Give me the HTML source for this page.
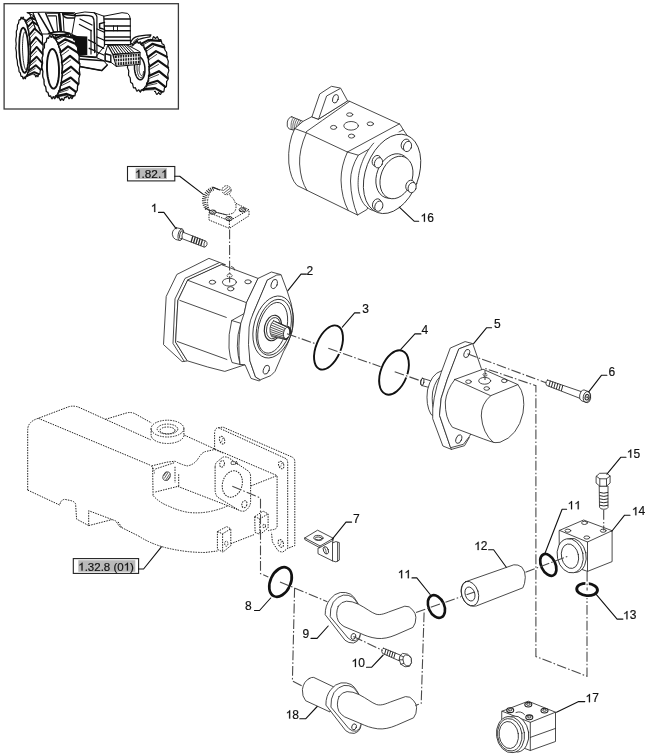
<!DOCTYPE html>
<html><head><meta charset="utf-8">
<style>
html,body{margin:0;padding:0;background:#fff;}
body{width:645px;height:756px;overflow:hidden;font-family:"Liberation Sans",sans-serif;}
svg{display:block;position:absolute;left:0;top:0;will-change:transform;}
text{font-family:"Liberation Sans",sans-serif;font-size:11.5px;fill:#111;stroke:#111;stroke-width:0.18;}
.l{fill:none;stroke:#2a2a2a;stroke-width:0.85;stroke-linecap:round;stroke-linejoin:round;}
.lf{fill:#fff;stroke:#2a2a2a;stroke-width:0.85;stroke-linecap:round;stroke-linejoin:round;}
.ld{fill:none;stroke:#111;stroke-width:1.1;stroke-linecap:round;stroke-linejoin:round;}
.dd{fill:none;stroke:#4a4a4a;stroke-width:1.1;stroke-dasharray:9.8 2.1 1.6 2.1;}
.dt{fill:none;stroke:#222;stroke-width:1.0;stroke-dasharray:1.5 1.1;stroke-linejoin:round;}
.dtf{fill:#fff;stroke:#222;stroke-width:1.0;stroke-dasharray:1.5 1.1;stroke-linejoin:round;}
.or{fill:none;stroke:#111;stroke-width:2.2;}
.t{fill:none;stroke:#111;stroke-width:1.0;stroke-linecap:round;stroke-linejoin:round;}
.tf{fill:#fff;stroke:#111;stroke-width:1.0;stroke-linecap:round;stroke-linejoin:round;}
.k{fill:#111;stroke:none;}
</style></head><body>
<svg width="645" height="756" viewBox="0 0 645 756">
<rect x="0" y="0" width="645" height="756" fill="#fff"/>
<g id="tractor">
<rect x="4.1" y="3.7" width="174.3" height="105.3" fill="#fff" stroke="#3a3a3a" stroke-width="1.3"/>
<path d="M31.6 17.8 L31.8 17.8 L32.0 17.9 L32.3 17.9 L32.5 18.1 L32.7 18.2 L32.9 17.6 L33.0 16.9 L33.2 16.3 L33.3 15.7 L33.5 15.1 L33.7 15.4 L34.0 15.8 L34.2 16.1 L34.4 16.5 L34.6 16.9 L34.8 16.5 L35.0 16.0 L35.2 15.6 L35.4 15.3 L35.6 15.0 L35.9 15.6 L36.1 16.2 L36.3 16.8 L36.5 17.4 L36.6 17.9 L36.9 17.8 L37.1 17.6 L37.3 17.5 L37.5 17.4 L37.8 17.4 L37.9 18.2 L38.1 19.0 L38.3 19.8 L38.4 20.6 L38.6 21.3 L38.8 21.4 L39.0 21.5 L39.3 21.7 L39.5 21.8 L39.7 22.2 L39.8 23.1 L40.0 24.0 L40.1 24.9 L40.2 25.8 L40.3 26.7 L40.5 27.0 L40.7 27.4 L40.9 27.8 L41.2 28.3 L41.4 28.9 L41.4 29.8 L41.5 30.8 L41.5 31.8 L41.5 32.7 L41.6 33.6 L41.8 34.2 L42.0 34.8 L42.2 35.5 L42.4 36.2 L42.5 36.9 L42.5 37.9 L42.5 38.9 L42.5 39.8 L42.4 40.7 L42.4 41.6 L42.6 42.4 L42.8 43.2 L42.9 44.0 L43.0 44.9 L43.1 45.7 L43.1 46.6 L43.0 47.5 L42.9 48.3 L42.8 49.1 L42.7 49.9 L42.8 50.8 L42.9 51.8 L43.0 52.7 L43.1 53.7 L43.1 54.6 L43.0 55.3 L42.8 56.0 L42.7 56.6 L42.5 57.3 L42.5 58.0 L42.5 58.9 L42.5 59.9 L42.6 60.9 L42.6 61.8 L42.5 62.7 L42.3 63.2 L42.1 63.6 L42.0 64.1 L41.8 64.5 L41.6 65.0 L41.6 66.0 L41.6 66.9 L41.5 67.8 L41.5 68.7 L41.4 69.4 L41.1 69.6 L40.9 69.8 L40.7 70.0 L40.5 70.1 L40.3 70.6 L40.2 71.4 L40.1 72.2 L40.0 73.0 L39.9 73.8 L39.7 74.2 L39.5 74.2 L39.3 74.1 L39.0 74.0 L38.8 73.9 L38.6 74.1 L38.5 74.7 L38.3 75.4 L38.2 76.0 L38.0 76.6 L37.8 76.7 L37.6 76.4 L37.3 76.1 L37.1 75.7 L36.9 75.3 L36.7 75.3 L36.5 75.7 L36.3 76.1 L36.1 76.5 L35.9 76.9 L35.7 76.7 L35.5 76.2 L35.3 75.6 L35.1 75.0 L34.9 74.3 L34.7 74.1 L34.4 74.3 L34.2 74.5 L34.0 74.6 L33.8 74.6 L33.6 74.2" fill="#fff" stroke="#111" stroke-width="1.2" stroke-linejoin="round"/>
<path d="M30.7 47.7 L30.5 49.1 L30.4 50.4 L30.2 51.7 L30.3 53.1 L30.5 54.5 L30.6 56.0 L30.5 57.3 L30.3 58.4 L30.1 59.4 L30.0 60.5 L30.0 62.0 L30.1 63.6 L30.0 64.9 L29.7 65.7 L29.4 66.3 L29.1 67.0 L29.1 68.4 L29.0 69.9 L28.9 71.3 L28.6 71.8 L28.2 72.1 L27.9 72.3 L27.7 73.3 L27.6 74.5 L27.4 75.8 L27.1 76.3 L26.7 76.2 L26.4 76.0 L26.0 76.2 L25.8 77.2 L25.6 78.2 L25.3 78.8 L24.9 78.3 L24.6 77.7 L24.2 77.1 L23.9 77.8 L23.6 78.4 L23.3 78.9 L22.9 78.3 L22.6 77.3 L22.3 76.3 L22.0 76.2 L21.7 76.4 L21.3 76.5 L21.0 76.0 L20.7 74.8 L20.5 73.5 L20.2 72.6 L19.8 72.4 L19.5 72.1 L19.1 71.7 L18.9 70.2 L18.8 68.8 L18.6 67.4 L18.3 66.7 L18.0 66.1 L17.6 65.3 L17.5 64.0 L17.4 62.5 L17.3 61.0 L17.1 59.8 L16.8 58.8 L16.5 57.8 L16.4 56.5 L16.4 55.0 L16.4 53.5 L16.4 52.2 L16.2 50.9 L16.0 49.6 L15.7 48.3 L15.9 46.9 L16.0 45.6 L16.2 44.3 L16.1 42.9 L15.9 41.5 L15.8 40.0 L15.9 38.7 L16.1 37.6 L16.3 36.6 L16.4 35.5 L16.4 34.0 L16.3 32.4 L16.4 31.1 L16.7 30.3 L17.0 29.7 L17.3 29.0 L17.3 27.6 L17.4 26.1 L17.5 24.7 L17.8 24.2 L18.2 23.9 L18.5 23.7 L18.7 22.7 L18.8 21.5 L19.0 20.2 L19.3 19.7 L19.7 19.8 L20.0 20.0 L20.4 19.8 L20.6 18.8 L20.8 17.8 L21.1 17.2 L21.5 17.7 L21.8 18.3 L22.2 18.9 L22.5 18.2 L22.8 17.6 L23.1 17.1 L23.5 17.7 L23.8 18.7 L24.1 19.7 L24.4 19.8 L24.7 19.6 L25.1 19.5 L25.4 20.0 L25.7 21.2 L25.9 22.5 L26.2 23.4 L26.6 23.6 L26.9 23.9 L27.3 24.3 L27.5 25.8 L27.6 27.2 L27.8 28.6 L28.1 29.3 L28.4 29.9 L28.8 30.7 L28.9 32.0 L29.0 33.5 L29.1 35.0 L29.3 36.2 L29.6 37.2 L29.9 38.2 L30.0 39.5 L30.0 41.0 L30.0 42.5 L30.0 43.8 L30.2 45.1 L30.4 46.4 L30.7 47.7 Z" fill="#fff" stroke="#111" stroke-width="1.2" stroke-linejoin="round"/>
<path d="M25.5 21.4 L30.3 17.8 L38.5 20.6" fill="none" stroke="#111" stroke-width="1.9" stroke-linecap="round" stroke-linejoin="round"/>
<path d="M26.4 23.2 L31.3 19.5" fill="none" stroke="#111" stroke-width="0.8" stroke-linecap="round"/>
<path d="M27.6 27.1 L32.6 21.9 L40.4 26.8" fill="none" stroke="#111" stroke-width="1.9" stroke-linecap="round" stroke-linejoin="round"/>
<path d="M28.3 29.9 L33.5 24.7" fill="none" stroke="#111" stroke-width="0.8" stroke-linecap="round"/>
<path d="M29.2 35.1 L34.6 28.6 L41.9 35.1" fill="none" stroke="#111" stroke-width="1.9" stroke-linecap="round" stroke-linejoin="round"/>
<path d="M29.6 38.5 L35.2 32.2" fill="none" stroke="#111" stroke-width="0.8" stroke-linecap="round"/>
<path d="M30.2 44.4 L35.9 37.2 L42.7 44.5" fill="none" stroke="#111" stroke-width="1.9" stroke-linecap="round" stroke-linejoin="round"/>
<path d="M30.3 48.1 L36.3 41.4" fill="none" stroke="#111" stroke-width="0.8" stroke-linecap="round"/>
<path d="M30.4 54.2 L36.7 46.9 L42.8 54.1" fill="none" stroke="#111" stroke-width="1.9" stroke-linecap="round" stroke-linejoin="round"/>
<path d="M30.3 57.7 L36.6 51.1" fill="none" stroke="#111" stroke-width="0.8" stroke-linecap="round"/>
<path d="M29.8 63.2 L36.6 56.7 L42.1 62.8" fill="none" stroke="#111" stroke-width="1.9" stroke-linecap="round" stroke-linejoin="round"/>
<path d="M29.4 66.3 L36.3 60.4" fill="none" stroke="#111" stroke-width="0.8" stroke-linecap="round"/>
<path d="M28.6 70.7 L35.8 65.3 L40.7 69.7" fill="none" stroke="#111" stroke-width="1.9" stroke-linecap="round" stroke-linejoin="round"/>
<path d="M28.0 72.9 L35.2 68.3" fill="none" stroke="#111" stroke-width="0.8" stroke-linecap="round"/>
<path d="M26.8 75.7 L34.3 72.1 L38.8 74.2" fill="none" stroke="#111" stroke-width="1.9" stroke-linecap="round" stroke-linejoin="round"/>
<path d="M26.0 76.9 L33.4 73.9" fill="none" stroke="#111" stroke-width="0.8" stroke-linecap="round"/>
<path d="M21.6 18.9 L22.2 18.7 L22.8 18.8 L23.4 19.1 L24.0 19.7 L24.6 20.4 L25.2 21.4 L25.8 22.5 L26.4 23.9 L26.9 25.4 L27.4 27.1 L27.9 29.0 L28.3 31.0 L28.7 33.2 L29.1 35.4 L29.4 37.8 L29.7 40.2 L29.9 42.7 L30.1 45.2 L30.2 47.8 L30.2 50.3 L30.3 52.8 L30.2 55.3 L30.1 57.8 L30.0 60.2 L29.8 62.4 L29.5 64.6 L29.2 66.6 L28.9 68.5 L28.5 70.3 L28.0 71.8 L27.6 73.2 L27.1 74.4 L26.5 75.4 L26.0 76.2 L25.4 76.8 L24.8 77.1 L24.2 77.3 L23.6 77.2" fill="none" stroke="#111" stroke-width="1.0"/>
<path d="M28.5 50.1 L28.6 52.5 L28.6 54.8 L28.5 57.1 L28.4 59.3 L28.3 61.4 L28.1 63.4 L27.8 65.2 L27.6 66.9 L27.2 68.4 L26.9 69.7 L26.5 70.8 L26.1 71.6 L25.6 72.3 L25.2 72.6 L24.7 72.8 L24.2 72.7 L23.7 72.3 L23.2 71.7 L22.7 70.9 L22.3 69.9 L21.8 68.6 L21.4 67.1 L21.0 65.5 L20.6 63.6 L20.3 61.7 L20.0 59.6 L19.8 57.4 L19.6 55.1 L19.4 52.8 L19.3 50.5 L19.2 48.1 L19.2 45.8 L19.3 43.5 L19.4 41.3 L19.5 39.2 L19.7 37.2 L20.0 35.4 L20.2 33.7 L20.6 32.2 L20.9 30.9 L21.3 29.8 L21.7 29.0 L22.2 28.3 L22.6 28.0 L23.1 27.8 L23.6 27.9 L24.1 28.3 L24.6 28.9 L25.1 29.7 L25.5 30.7 L26.0 32.0 L26.4 33.5 L26.8 35.1 L27.2 37.0 L27.5 38.9 L27.8 41.0 L28.0 43.2 L28.2 45.5 L28.4 47.8 L28.5 50.1 Z" fill="none" stroke="#111" stroke-width="1.8" stroke-linecap="round"/>
<path d="M27.7 67.4 L27.4 68.3 L27.2 69.0 L26.9 69.6 L26.6 69.9 L26.3 70.0 L25.9 69.9 L25.6 69.6 L25.3 69.1 L25.0 68.4 L24.7 67.5 L24.4 66.4 L24.1 65.2 L23.8 63.8 L23.6 62.2 L23.3 60.6 L23.1 58.8 L23.0 57.0 L22.8 55.1 L22.7 53.1 L22.6 51.1 L22.5 49.1 L22.5 47.2 L22.5 45.2 L22.6 43.4 L22.7 41.6 L22.8 39.9 L22.9 38.4 L23.1 37.0 L23.3 35.7 L23.5 34.6 L23.8 33.7 L24.0 33.0 L24.3 32.4 L24.6 32.1 L24.9 32.0 L25.3 32.1 L25.6 32.4 L25.9 32.9 L26.2 33.6 L26.5 34.5" fill="none" stroke="#111" stroke-width="0.9" stroke-linecap="round"/>
<path d="M150.2 39.4 L150.6 39.4 L151.0 39.5 L151.3 39.6 L151.7 39.7 L152.1 39.8 L152.3 39.6 L152.6 38.9 L152.8 38.3 L153.0 37.7 L153.3 37.1 L153.6 36.6 L153.9 36.9 L154.3 37.3 L154.7 37.6 L155.0 38.0 L155.3 38.5 L155.7 38.4 L155.9 38.0 L156.3 37.6 L156.6 37.3 L156.9 36.9 L157.2 36.7 L157.6 37.3 L157.9 37.9 L158.2 38.5 L158.5 39.1 L158.8 39.8 L159.1 39.9 L159.4 39.8 L159.8 39.7 L160.2 39.6 L160.5 39.6 L160.9 39.7 L161.1 40.4 L161.4 41.2 L161.6 42.0 L161.8 42.8 L162.0 43.6 L162.3 44.0 L162.7 44.1 L163.1 44.3 L163.4 44.5 L163.8 44.8 L164.1 45.2 L164.3 46.1 L164.4 47.0 L164.6 47.9 L164.7 48.8 L164.8 49.6 L165.1 50.2 L165.4 50.6 L165.7 51.0 L166.1 51.5 L166.4 52.0 L166.7 52.7 L166.7 53.6 L166.8 54.5 L166.8 55.5 L166.8 56.3 L166.8 57.2 L167.0 57.9 L167.3 58.6 L167.6 59.2 L167.8 59.9 L168.1 60.7 L168.3 61.5 L168.2 62.3 L168.1 63.2 L168.0 64.0 L167.9 64.8 L167.8 65.6 L167.9 66.4 L168.1 67.2 L168.3 68.0 L168.5 68.9 L168.7 69.8 L168.8 70.6 L168.6 71.4 L168.4 72.1 L168.2 72.7 L168.0 73.4 L167.7 74.0 L167.8 74.8 L167.9 75.7 L168.0 76.6 L168.1 77.6 L168.1 78.5 L168.1 79.3 L167.8 79.8 L167.5 80.3 L167.2 80.7 L166.9 81.2 L166.6 81.5 L166.6 82.4 L166.6 83.3 L166.6 84.1 L166.5 85.0 L166.5 85.9 L166.3 86.6 L166.0 86.8 L165.6 87.1 L165.3 87.2 L164.9 87.4 L164.6 87.5 L164.4 88.2 L164.3 89.0 L164.2 89.8 L164.0 90.6 L163.9 91.4 L163.6 91.8 L163.2 91.8 L162.9 91.7 L162.5 91.6 L162.1 91.5 L161.8 91.3 L161.6 91.9 L161.3 92.5 L161.1 93.1 L160.9 93.7 L160.6 94.3 L160.3 94.5 L159.9 94.1 L159.5 93.8 L159.2 93.4 L158.8 93.0 L158.5 92.5 L158.2 93.0 L157.9 93.4 L157.6 93.7 L157.3 94.1 L157.0 94.4 L156.6 94.2 L156.3 93.7 L156.0 93.1 L155.7 92.4 L155.4 91.8 L155.1 91.2 L154.8 91.3 L154.4 91.5 L154.0 91.5" fill="#fff" stroke="#111" stroke-width="1.2" stroke-linejoin="round"/>
<path d="M149.8 65.7 L149.6 66.9 L149.3 67.9 L149.0 69.0 L149.0 70.0 L149.3 71.2 L149.6 72.4 L149.8 73.7 L149.4 74.6 L149.0 75.4 L148.6 76.1 L148.5 77.1 L148.6 78.4 L148.7 79.7 L148.7 81.0 L148.2 81.5 L147.7 82.0 L147.2 82.3 L146.9 83.1 L146.9 84.4 L146.8 85.6 L146.6 86.9 L146.1 87.0 L145.5 87.0 L144.9 87.0 L144.6 87.5 L144.3 88.6 L144.1 89.7 L143.8 90.7 L143.2 90.4 L142.6 90.1 L142.1 89.7 L141.6 89.9 L141.2 90.7 L140.8 91.5 L140.4 92.2 L139.9 91.6 L139.3 90.8 L138.9 90.1 L138.4 89.9 L137.9 90.4 L137.4 90.9 L136.9 91.2 L136.4 90.2 L136.0 89.2 L135.6 88.2 L135.2 87.7 L134.6 87.8 L134.1 87.8 L133.5 87.8 L133.2 86.6 L132.9 85.3 L132.7 84.1 L132.3 83.4 L131.7 83.1 L131.2 82.7 L130.6 82.3 L130.5 80.9 L130.4 79.6 L130.3 78.4 L130.0 77.4 L129.5 76.8 L129.0 76.0 L128.5 75.2 L128.6 73.9 L128.6 72.6 L128.8 71.4 L128.6 70.4 L128.2 69.4 L127.8 68.4 L127.4 67.3 L127.6 66.1 L127.9 65.1 L128.2 64.0 L128.2 63.0 L127.9 61.8 L127.6 60.6 L127.4 59.3 L127.8 58.4 L128.2 57.6 L128.6 56.9 L128.7 55.9 L128.6 54.6 L128.5 53.3 L128.5 52.0 L129.0 51.5 L129.5 51.0 L130.0 50.7 L130.3 49.9 L130.3 48.6 L130.4 47.4 L130.6 46.1 L131.1 46.0 L131.7 46.0 L132.3 46.0 L132.6 45.5 L132.9 44.4 L133.1 43.3 L133.4 42.3 L134.0 42.6 L134.6 42.9 L135.1 43.3 L135.6 43.1 L136.0 42.3 L136.4 41.5 L136.8 40.8 L137.3 41.4 L137.9 42.2 L138.3 42.9 L138.8 43.1 L139.3 42.6 L139.8 42.1 L140.3 41.8 L140.8 42.8 L141.2 43.8 L141.6 44.8 L142.0 45.3 L142.6 45.2 L143.1 45.2 L143.7 45.2 L144.0 46.4 L144.3 47.7 L144.5 48.9 L144.9 49.6 L145.5 49.9 L146.0 50.3 L146.6 50.7 L146.7 52.1 L146.8 53.4 L146.9 54.6 L147.2 55.6 L147.7 56.2 L148.2 57.0 L148.7 57.8 L148.6 59.1 L148.6 60.4 L148.4 61.6 L148.6 62.6 L149.0 63.6 L149.4 64.6 L149.8 65.7 Z" fill="#fff" stroke="#111" stroke-width="1.2" stroke-linejoin="round"/>
<path d="M141.2 43.9 L148.2 40.1 L160.3 40.8" fill="none" stroke="#111" stroke-width="2.2" stroke-linecap="round" stroke-linejoin="round"/>
<path d="M142.5 45.2 L149.7 41.2" fill="none" stroke="#111" stroke-width="0.8" stroke-linecap="round"/>
<path d="M145.1 49.2 L152.4 43.9 L164.2 47.4" fill="none" stroke="#111" stroke-width="2.2" stroke-linecap="round" stroke-linejoin="round"/>
<path d="M146.1 51.4 L153.7 46.3" fill="none" stroke="#111" stroke-width="0.8" stroke-linecap="round"/>
<path d="M147.9 57.2 L156.0 51.1 L166.9 56.9" fill="none" stroke="#111" stroke-width="2.2" stroke-linecap="round" stroke-linejoin="round"/>
<path d="M148.5 60.0 L156.8 54.4" fill="none" stroke="#111" stroke-width="0.8" stroke-linecap="round"/>
<path d="M149.2 66.6 L158.2 60.7 L168.1 67.7" fill="none" stroke="#111" stroke-width="2.2" stroke-linecap="round" stroke-linejoin="round"/>
<path d="M149.3 69.6 L158.5 64.4" fill="none" stroke="#111" stroke-width="0.8" stroke-linecap="round"/>
<path d="M148.9 76.0 L158.9 71.2 L167.5 78.2" fill="none" stroke="#111" stroke-width="2.2" stroke-linecap="round" stroke-linejoin="round"/>
<path d="M148.5 78.7 L158.6 74.6" fill="none" stroke="#111" stroke-width="0.8" stroke-linecap="round"/>
<path d="M147.0 84.0 L157.7 80.8 L165.3 86.8" fill="none" stroke="#111" stroke-width="2.2" stroke-linecap="round" stroke-linejoin="round"/>
<path d="M146.1 85.9 L156.9 83.5" fill="none" stroke="#111" stroke-width="0.8" stroke-linecap="round"/>
<path d="M143.7 89.2 L155.1 88.1 L161.8 92.0" fill="none" stroke="#111" stroke-width="2.2" stroke-linecap="round" stroke-linejoin="round"/>
<path d="M142.5 90.1 L153.8 89.7" fill="none" stroke="#111" stroke-width="0.8" stroke-linecap="round"/>
<path d="M136.0 42.8 L136.9 42.7 L137.8 42.7 L138.8 42.9 L139.7 43.3 L140.6 43.9 L141.5 44.6 L142.3 45.5 L143.2 46.6 L144.0 47.8 L144.7 49.2 L145.5 50.6 L146.1 52.3 L146.7 54.0 L147.3 55.8 L147.8 57.7 L148.2 59.6 L148.5 61.7 L148.8 63.7 L149.0 65.8 L149.1 67.9 L149.1 69.9 L149.0 72.0 L148.9 74.0 L148.7 75.9 L148.4 77.8 L148.0 79.6 L147.6 81.2 L147.1 82.8 L146.5 84.3 L145.9 85.6 L145.2 86.8 L144.5 87.8 L143.7 88.6 L142.9 89.3 L142.0 89.8 L141.2 90.2 L140.3 90.3 L139.4 90.3" fill="none" stroke="#111" stroke-width="1.0"/>
<path d="M144.9 68.0 L144.9 69.2 L144.9 70.4 L144.9 71.6 L144.8 72.7 L144.6 73.8 L144.4 74.8 L144.1 75.7 L143.8 76.6 L143.4 77.4 L143.0 78.1 L142.5 78.6 L142.1 79.1 L141.6 79.4 L141.0 79.7 L140.5 79.8 L139.9 79.7 L139.4 79.6 L138.9 79.3 L138.3 78.9 L137.8 78.4 L137.3 77.8 L136.8 77.1 L136.4 76.3 L136.0 75.4 L135.6 74.4 L135.3 73.4 L135.0 72.3 L134.8 71.1 L134.6 69.9 L134.5 68.8 L134.5 67.6 L134.5 66.4 L134.5 65.2 L134.6 64.1 L134.8 63.0 L135.0 62.0 L135.3 61.1 L135.6 60.2 L136.0 59.4 L136.4 58.7 L136.9 58.2 L137.3 57.7 L137.8 57.4 L138.4 57.1 L138.9 57.0 L139.5 57.1 L140.0 57.2 L140.5 57.5 L141.1 57.9 L141.6 58.4 L142.1 59.0 L142.6 59.7 L143.0 60.5 L143.4 61.4 L143.8 62.4 L144.1 63.4 L144.4 64.5 L144.6 65.7 L144.8 66.9 L144.9 68.0 Z" fill="none" stroke="#111" stroke-width="1.5" stroke-linecap="round"/>
<path d="M144.2 71.9 L144.1 72.7 L144.0 73.5 L143.8 74.3 L143.6 75.0 L143.4 75.6 L143.1 76.2 L142.8 76.7 L142.5 77.1 L142.2 77.4 L141.8 77.6 L141.4 77.7 L141.1 77.8 L140.7 77.7 L140.3 77.6 L139.9 77.3 L139.6 77.0 L139.2 76.6 L138.9 76.1 L138.5 75.5 L138.2 74.9 L138.0 74.2 L137.7 73.4 L137.5 72.6 L137.3 71.8 L137.2 70.9 L137.1 70.0 L137.0 69.2 L137.0 68.3 L137.0 67.4 L137.0 66.5 L137.1 65.7 L137.2 64.9 L137.4 64.1 L137.6 63.4 L137.8 62.8 L138.1 62.2 L138.4 61.7 L138.7 61.3" fill="none" stroke="#111" stroke-width="0.9" stroke-linecap="round"/>
<path d="M143.5 71.6 L143.4 72.2 L143.4 72.7 L143.3 73.2 L143.2 73.7 L143.0 74.1 L142.9 74.5 L142.7 74.8 L142.5 75.1 L142.3 75.3 L142.1 75.5 L141.9 75.6 L141.6 75.6 L141.4 75.6 L141.2 75.5 L140.9 75.3 L140.7 75.1 L140.5 74.8 L140.3 74.5 L140.1 74.1 L139.9 73.6 L139.7 73.2 L139.6 72.7 L139.4 72.1 L139.3 71.5 L139.2 71.0 L139.1 70.4 L139.1 69.8 L139.1 69.1 L139.1 68.5 L139.1 68.0 L139.2 67.4 L139.2 66.9 L139.3 66.4 L139.4 65.9 L139.6 65.5 L139.7 65.1 L139.9 64.8 L140.1 64.5" fill="none" stroke="#111" stroke-width="0.9" stroke-linecap="round"/>
<g>
<!-- cab / pillars -->
<path class="tf" d="M27.2 12.6L43 12.2L75 12.8L78 16L76 34H42L34 16Z"/>
<path class="t" d="M38.4 13.3L49.7 32.5M45.7 13.3L53.6 31.8" style="stroke-width:1.5"/>
<path class="t" d="M29.5 13L36 30M33 12.8L40 31" style="stroke-width:1.1"/>
<path class="t" d="M48.3 15.9H55.6M47 13.2H58" style="stroke-width:1.3"/>
<path class="t" d="M59.2 14L60.9 31.8" style="stroke-width:2.6"/>
<path class="t" d="M56.3 16L57.5 31M63 13.5L64 31" style="stroke-width:1"/>
<path class="t" d="M62.5 13.5H73Q76.5 15 75.5 18H67.5Q63.5 17.5 62.5 13.5Z" style="stroke-width:1.3"/>
<path class="t" d="M49.5 33.2Q58.9 30.8 68.3 33.2Q58.9 35.8 49.5 33.2Z" style="stroke-width:1.5"/>
<!-- hood -->
<path class="tf" d="M75.9 13.5Q85 10.8 94.1 12.7L103.8 16.2L122 12.7L127.6 13.4Q130 15 130.3 19V40.6L131 44.5H104.5V46L95 58H72V34Z"/>
<path class="t" d="M63 14.2L76 15.8Q88 14.5 92.7 16.9Q94.3 19 94.1 23.1L94.8 52.4" style="stroke-width:1.5"/>
<path class="t" d="M94.1 12.7Q97.5 15 96.9 19V58" style="stroke-width:1.2"/>
<path class="t" d="M103.8 16.2Q104.8 30 104.5 45.5" style="stroke-width:1.3"/>
<path class="t" d="M104.5 19H130.3M104.5 25.9H130.3M104.5 30.8H130.3M104.5 37.1H130.3M104.5 40.6H130.3" style="stroke-width:1.5"/>
<path class="t" d="M113.5 25.9V30.8M117.5 25.9V30.8" style="stroke-width:0.9"/>
<path class="t" d="M104.5 22.4L99.6 23.8V28L104.5 29.4" style="stroke-width:1.5"/>
<path class="t" d="M79.4 24.5L91.3 30.8M88.5 39.9L95.5 43.4M96.9 44.8L103.8 48.3M89.2 48.3L95.5 51.1M96.9 52L103.8 55M96.9 37L103.8 40M97 29L103.8 32M80 19L92 25" style="stroke-width:1.3"/>
<path class="t" d="M91 30V54" style="stroke-width:1.2"/>
<!-- black square -->
<path class="k" d="M72 34L77 36L87.3 36.5V55H77L72 50Z"/>
<!-- frame -->
<path class="tf" d="M78.7 55.9L95.5 57.3L103.8 60.8L107.3 65L101.7 70.6L79.4 66.4Z"/>
<path class="t" d="M78.7 55.9L95.5 57.3" style="stroke-width:1.8"/>
<path class="t" d="M79 59L103.8 60.8" style="stroke-width:1.4"/>
<path class="t" d="M79.4 66.4L101.7 70.6L107.3 65" style="stroke-width:1.5"/>
<!-- weights -->
<path class="tf" d="M108 45.5L126.9 44.8L138.7 51L140.1 52.4V64.3L116.4 66.4L110.8 62.2L105.2 60.8V53.8Z"/>
<path class="t" d="M108 45.5L112.9 54.5L140.1 52.4M112.9 54.5L116.4 66.4" style="stroke-width:1.3"/>
<path class="t" d="M110.3 45.5L115.6 54.3M112.6 45.4L118.3 54.1M114.9 45.3L121 53.9M117.2 45.2L123.7 53.7M119.5 45.1L126.4 53.5M121.8 45L129.1 53.3M124.1 44.9L131.8 53.1M126.2 44.8L134.5 52.9" style="stroke-width:1"/>
<path d="M114.5 55.5L139.6 53.6V63.5L117 65.5Z" fill="#111"/>
<g stroke="#fff" stroke-width="1" fill="none">
<path d="M117.3 55.6V65.3M119.8 55.4V65.1M122.3 55.2V64.9M124.8 55V64.7M127.3 54.8V64.5M129.8 54.6V64.3M132.3 54.4V64.1M134.8 54.2V63.9M137.3 54V63.7"/>
<path d="M114.5 58.6L139.6 56.8M115.5 62L139.6 60.2" stroke-width="0.9"/>
</g>
<path class="tf" d="M105.2 53.8L110.8 55.2V62.2L105.2 60.8Z" style="stroke-width:1.4"/>
<!-- right fender -->
<path class="tf" d="M130.4 43Q132 38.5 136 36.8Q140.9 35.3 150.9 34.9L149.8 36.8Q142.2 38 138.5 39.5Q134.5 41.5 133.5 45Z" style="stroke-width:1.3"/>
<path class="t" d="M132.3 44Q134 40 138 38.3" style="stroke-width:0.9"/>
</g>

<path d="M71.4 66.1 L71.2 67.6 L71.0 69.1 L70.7 70.5 L70.9 72.0 L71.0 73.6 L71.2 75.2 L71.1 76.6 L70.7 77.8 L70.4 78.9 L70.2 80.2 L70.3 81.9 L70.3 83.5 L70.2 85.0 L69.8 85.9 L69.4 86.6 L69.0 87.3 L68.9 88.9 L68.8 90.5 L68.6 92.1 L68.2 92.6 L67.7 92.9 L67.2 93.2 L66.9 94.2 L66.7 95.6 L66.4 97.0 L66.0 97.6 L65.5 97.5 L65.0 97.3 L64.5 97.5 L64.2 98.6 L63.8 99.7 L63.4 100.4 L62.9 99.8 L62.4 99.2 L61.9 98.5 L61.5 99.2 L61.0 99.9 L60.6 100.5 L60.1 99.8 L59.7 98.8 L59.2 97.7 L58.8 97.5 L58.3 97.7 L57.8 97.9 L57.3 97.3 L57.0 96.0 L56.6 94.6 L56.3 93.6 L55.8 93.4 L55.3 93.1 L54.8 92.6 L54.5 91.0 L54.3 89.4 L54.1 87.8 L53.7 87.1 L53.2 86.4 L52.7 85.6 L52.5 84.2 L52.4 82.5 L52.3 80.8 L52.1 79.6 L51.7 78.5 L51.3 77.3 L51.0 75.9 L51.1 74.3 L51.1 72.7 L51.2 71.2 L50.8 69.8 L50.5 68.4 L50.2 66.9 L50.4 65.4 L50.6 63.9 L50.9 62.5 L50.7 61.0 L50.6 59.4 L50.4 57.8 L50.5 56.4 L50.9 55.2 L51.2 54.1 L51.4 52.8 L51.3 51.1 L51.3 49.5 L51.4 48.0 L51.8 47.1 L52.2 46.4 L52.6 45.7 L52.7 44.1 L52.8 42.5 L53.0 40.9 L53.4 40.4 L53.9 40.1 L54.4 39.8 L54.7 38.8 L54.9 37.4 L55.2 36.0 L55.6 35.4 L56.1 35.5 L56.6 35.7 L57.1 35.5 L57.4 34.4 L57.8 33.3 L58.2 32.6 L58.7 33.2 L59.2 33.8 L59.7 34.5 L60.1 33.8 L60.6 33.1 L61.0 32.5 L61.5 33.2 L61.9 34.2 L62.4 35.3 L62.8 35.5 L63.3 35.3 L63.8 35.1 L64.3 35.7 L64.6 37.0 L65.0 38.4 L65.3 39.4 L65.8 39.6 L66.3 39.9 L66.8 40.4 L67.1 42.0 L67.3 43.6 L67.5 45.2 L67.9 45.9 L68.4 46.6 L68.9 47.4 L69.1 48.8 L69.2 50.5 L69.3 52.2 L69.5 53.4 L69.9 54.5 L70.3 55.7 L70.6 57.1 L70.5 58.7 L70.5 60.3 L70.4 61.8 L70.8 63.2 L71.1 64.6 L71.4 66.1 Z" fill="#fff" stroke="#111" stroke-width="1.3" stroke-linejoin="round"/>
<path d="M63.7 36.1 L64.1 36.1 L64.4 36.2 L64.8 36.3 L65.1 36.5 L65.4 36.6 L65.6 35.9 L65.8 35.2 L66.1 34.5 L66.3 33.9 L66.6 33.3 L66.9 33.6 L67.2 34.0 L67.5 34.4 L67.9 34.8 L68.2 35.2 L68.4 34.7 L68.7 34.3 L69.0 33.8 L69.3 33.4 L69.6 33.1 L69.9 33.7 L70.2 34.4 L70.5 35.0 L70.7 35.7 L71.0 36.3 L71.3 36.1 L71.6 35.9 L72.0 35.7 L72.3 35.6 L72.6 35.7 L72.9 36.5 L73.1 37.3 L73.3 38.2 L73.5 39.0 L73.7 39.8 L74.1 39.9 L74.4 40.0 L74.7 40.1 L75.1 40.3 L75.4 40.7 L75.5 41.6 L75.7 42.6 L75.8 43.6 L75.9 44.6 L76.1 45.5 L76.4 45.8 L76.7 46.2 L77.0 46.6 L77.4 47.1 L77.6 47.7 L77.7 48.8 L77.7 49.8 L77.8 50.9 L77.8 51.9 L77.9 52.8 L78.2 53.4 L78.4 54.1 L78.7 54.8 L79.0 55.5 L79.2 56.3 L79.2 57.3 L79.1 58.3 L79.1 59.3 L79.0 60.3 L79.0 61.2 L79.2 62.1 L79.4 62.9 L79.6 63.8 L79.8 64.7 L79.9 65.6 L79.8 66.6 L79.7 67.5 L79.5 68.4 L79.4 69.2 L79.3 70.1 L79.4 71.0 L79.6 72.0 L79.7 73.0 L79.8 74.0 L79.8 75.0 L79.6 75.7 L79.4 76.5 L79.2 77.2 L78.9 77.8 L78.8 78.6 L78.9 79.6 L78.9 80.6 L78.9 81.7 L78.9 82.7 L78.9 83.6 L78.6 84.1 L78.3 84.6 L78.0 85.1 L77.7 85.5 L77.5 86.1 L77.5 87.1 L77.4 88.1 L77.4 89.1 L77.3 90.1 L77.1 90.8 L76.8 91.0 L76.5 91.2 L76.1 91.4 L75.8 91.5 L75.6 91.9 L75.4 92.8 L75.3 93.7 L75.1 94.6 L75.0 95.4 L74.7 95.9 L74.4 95.8 L74.0 95.8 L73.7 95.6 L73.4 95.5 L73.1 95.7 L72.9 96.4 L72.7 97.1 L72.4 97.8 L72.2 98.4 L71.9 98.6 L71.6 98.2 L71.2 97.9 L70.9 97.4 L70.6 97.0 L70.3 97.0 L70.0 97.5 L69.8 97.9 L69.5 98.4 L69.2 98.7 L68.9 98.6 L68.6 98.0 L68.3 97.4 L68.0 96.7 L67.7 96.0 L67.5 95.8 L67.1 96.0 L66.8 96.2 L66.5 96.3 L66.2 96.4 L65.9 96.0" fill="#fff" stroke="#111" stroke-width="1.3" stroke-linejoin="round"/>
<path d="M62.7 66.6 L62.5 68.1 L62.3 69.4 L62.0 70.7 L62.1 72.1 L62.3 73.6 L62.5 75.1 L62.4 76.5 L62.0 77.5 L61.7 78.6 L61.5 79.8 L61.6 81.3 L61.6 82.9 L61.5 84.3 L61.1 85.1 L60.6 85.7 L60.2 86.4 L60.2 87.9 L60.1 89.4 L60.0 90.9 L59.5 91.4 L59.0 91.7 L58.5 91.8 L58.2 92.9 L58.0 94.2 L57.8 95.5 L57.3 96.1 L56.8 95.9 L56.3 95.7 L55.9 95.9 L55.6 97.0 L55.2 98.0 L54.8 98.7 L54.3 98.1 L53.8 97.5 L53.3 96.8 L52.9 97.5 L52.5 98.2 L52.0 98.8 L51.6 98.1 L51.1 97.1 L50.7 96.1 L50.3 95.9 L49.8 96.2 L49.3 96.4 L48.8 95.8 L48.5 94.5 L48.2 93.2 L47.8 92.2 L47.3 92.1 L46.8 91.8 L46.3 91.4 L46.1 89.9 L45.9 88.4 L45.7 86.9 L45.3 86.3 L44.8 85.6 L44.3 84.9 L44.1 83.5 L44.0 81.9 L44.0 80.4 L43.8 79.2 L43.3 78.2 L42.9 77.1 L42.7 75.8 L42.7 74.3 L42.8 72.8 L42.9 71.4 L42.5 70.1 L42.2 68.8 L41.9 67.4 L42.1 65.9 L42.3 64.6 L42.6 63.3 L42.5 61.9 L42.3 60.4 L42.1 58.9 L42.2 57.5 L42.6 56.5 L42.9 55.4 L43.1 54.2 L43.0 52.7 L43.0 51.1 L43.1 49.7 L43.5 48.9 L44.0 48.3 L44.4 47.6 L44.4 46.1 L44.5 44.6 L44.6 43.1 L45.1 42.6 L45.6 42.3 L46.1 42.2 L46.4 41.1 L46.6 39.8 L46.8 38.5 L47.3 37.9 L47.8 38.1 L48.3 38.3 L48.7 38.1 L49.0 37.0 L49.4 36.0 L49.8 35.3 L50.3 35.9 L50.8 36.5 L51.3 37.2 L51.7 36.5 L52.1 35.8 L52.6 35.2 L53.0 35.9 L53.5 36.9 L53.9 37.9 L54.3 38.1 L54.8 37.8 L55.3 37.6 L55.8 38.2 L56.1 39.5 L56.4 40.8 L56.8 41.8 L57.3 41.9 L57.8 42.2 L58.3 42.6 L58.5 44.1 L58.7 45.6 L58.9 47.1 L59.3 47.7 L59.8 48.4 L60.3 49.1 L60.5 50.5 L60.6 52.1 L60.6 53.6 L60.8 54.8 L61.3 55.8 L61.7 56.9 L61.9 58.2 L61.9 59.7 L61.8 61.2 L61.7 62.6 L62.1 63.9 L62.4 65.2 L62.7 66.6 Z" fill="#fff" stroke="#111" stroke-width="1.3" stroke-linejoin="round"/>
<path d="M55.0 38.4 L61.7 35.5 L72.7 37.7" fill="none" stroke="#111" stroke-width="2.2" stroke-linecap="round" stroke-linejoin="round"/>
<path d="M56.2 40.0 L63.0 36.9" fill="none" stroke="#111" stroke-width="0.8" stroke-linecap="round"/>
<path d="M58.1 44.0 L65.1 39.3 L75.8 44.0" fill="none" stroke="#111" stroke-width="2.2" stroke-linecap="round" stroke-linejoin="round"/>
<path d="M59.1 46.6 L66.3 42.1" fill="none" stroke="#111" stroke-width="0.8" stroke-linecap="round"/>
<path d="M60.5 52.3 L68.0 46.4 L78.1 52.9" fill="none" stroke="#111" stroke-width="2.2" stroke-linecap="round" stroke-linejoin="round"/>
<path d="M61.2 55.7 L68.8 50.1" fill="none" stroke="#111" stroke-width="0.8" stroke-linecap="round"/>
<path d="M61.9 62.4 L70.0 55.9 L79.3 63.5" fill="none" stroke="#111" stroke-width="2.2" stroke-linecap="round" stroke-linejoin="round"/>
<path d="M62.2 66.1 L70.5 60.2" fill="none" stroke="#111" stroke-width="0.8" stroke-linecap="round"/>
<path d="M62.2 73.0 L71.0 66.7 L79.3 74.3" fill="none" stroke="#111" stroke-width="2.2" stroke-linecap="round" stroke-linejoin="round"/>
<path d="M62.0 76.7 L70.9 71.0" fill="none" stroke="#111" stroke-width="0.8" stroke-linecap="round"/>
<path d="M61.3 83.0 L70.7 77.5 L78.1 84.1" fill="none" stroke="#111" stroke-width="2.2" stroke-linecap="round" stroke-linejoin="round"/>
<path d="M60.7 86.0 L70.1 81.3" fill="none" stroke="#111" stroke-width="0.8" stroke-linecap="round"/>
<path d="M59.2 91.0 L69.2 86.9 L75.8 91.8" fill="none" stroke="#111" stroke-width="2.2" stroke-linecap="round" stroke-linejoin="round"/>
<path d="M58.3 93.1 L68.2 89.8" fill="none" stroke="#111" stroke-width="0.8" stroke-linecap="round"/>
<path d="M56.4 96.1 L66.7 93.9 L72.8 96.3" fill="none" stroke="#111" stroke-width="2.2" stroke-linecap="round" stroke-linejoin="round"/>
<path d="M55.2 97.0 L65.4 95.5" fill="none" stroke="#111" stroke-width="0.8" stroke-linecap="round"/>
<path d="M50.4 37.1 L51.3 36.9 L52.1 37.0 L52.9 37.3 L53.8 37.9 L54.6 38.6 L55.4 39.6 L56.2 40.8 L57.0 42.2 L57.7 43.8 L58.4 45.5 L59.1 47.4 L59.6 49.5 L60.2 51.7 L60.6 54.0 L61.1 56.4 L61.4 58.9 L61.7 61.4 L61.9 64.0 L62.0 66.7 L62.0 69.3 L62.0 71.9 L61.9 74.5 L61.8 77.0 L61.5 79.4 L61.2 81.7 L60.8 84.0 L60.4 86.1 L59.9 88.0 L59.3 89.8 L58.7 91.4 L58.1 92.9 L57.3 94.1 L56.6 95.1 L55.8 95.9 L55.0 96.5 L54.2 96.9 L53.3 97.1 L52.5 97.0" fill="none" stroke="#111" stroke-width="1.0"/>
<path d="M59.0 68.6 L59.0 70.7 L59.0 72.7 L58.9 74.7 L58.8 76.7 L58.5 78.5 L58.3 80.3 L57.9 81.9 L57.5 83.4 L57.1 84.7 L56.6 85.8 L56.1 86.8 L55.5 87.6 L54.9 88.1 L54.3 88.5 L53.7 88.6 L53.1 88.5 L52.4 88.2 L51.8 87.7 L51.2 87.0 L50.6 86.0 L50.0 84.9 L49.5 83.6 L49.0 82.2 L48.6 80.6 L48.2 78.9 L47.8 77.0 L47.5 75.1 L47.3 73.1 L47.1 71.1 L47.0 69.0 L47.0 66.9 L47.0 64.9 L47.1 62.9 L47.2 60.9 L47.5 59.1 L47.7 57.3 L48.1 55.7 L48.5 54.2 L48.9 52.9 L49.4 51.8 L49.9 50.8 L50.5 50.0 L51.1 49.5 L51.7 49.1 L52.3 49.0 L52.9 49.1 L53.6 49.4 L54.2 49.9 L54.8 50.6 L55.4 51.6 L56.0 52.7 L56.5 54.0 L57.0 55.4 L57.4 57.0 L57.8 58.7 L58.2 60.6 L58.5 62.5 L58.7 64.5 L58.9 66.5 L59.0 68.6 Z" fill="none" stroke="#111" stroke-width="1.9" stroke-linecap="round"/>
<path d="M48.5 33.4Q58.9 30.3 69 33.2Q59 36.3 48.5 33.4Z" fill="#fff" stroke="#111" stroke-width="1.5" stroke-linejoin="round"/>
</g>
<g id="part16">
<!-- stud -->
<path class="lf" d="M291.8 116.8L303.3 121.5L296 130.6L289.2 129Q286.3 127 287.3 122Q288.5 117 291.8 116.8Z"/>
<path class="l" d="M293.6 117.6Q290.2 121 291.2 129.4M295.4 118.3Q292 122 293 129.8M297.2 119Q293.8 123 294.8 130.2M299 119.8Q295.8 124 296.5 130.4M300.8 120.5Q297.8 124.5 298.2 128" style="stroke-width:0.7"/>
<!-- body silhouette -->
<path class="lf" d="M294.7 128.6L302.9 121.4L312 116.6L318.6 119.1L347.6 100.9L349.7 101.3L400 124.3L403.2 129.7L408.6 137.5L366.8 209.6L357.5 215L297.1 185.5Q290.5 179 288.8 163Q287.5 143 294.7 128.6Z"/>
<!-- ear -->
<path class="lf" d="M312 116.6L319.7 94L331.5 86.3L340.6 88.1L347.6 100.9L318.6 119.1Z"/>
<path class="l" d="M318.6 119.1L326.6 96L339.9 88.7"/>
<ellipse class="l" cx="335.4" cy="98.8" rx="2.7" ry="4.4" transform="rotate(18 335.4 98.8)"/>
<!-- top face lines -->
<path class="l" d="M306.4 131.6L322.5 120.3L349.7 101.3"/>
<path class="l" d="M294.7 128.6L306.4 132.8L347.4 152L399.5 123.8"/>
<path class="l" d="M347.4 152L358.3 155.2L403.2 129.7"/>
<!-- seam curve -->
<path class="l" d="M306.4 132.8Q298.8 150 299.6 164Q300.6 181 307.1 190.5"/>
<!-- body front curves -->
<path class="l" d="M347.4 152Q341 166 341 180Q341.5 198 348.2 210.3"/>
<path class="l" d="M358.3 155.2Q350.5 168 350.5 181Q351 200 357.5 215"/>
<!-- top holes -->
<ellipse class="l" cx="349.7" cy="114.6" rx="3.1" ry="1.8"/>
<ellipse class="l" cx="333.6" cy="127.4" rx="3.1" ry="2"/>
<ellipse class="l" cx="351.1" cy="125.8" rx="7.3" ry="4.3"/>
<ellipse class="l" cx="351.5" cy="136.1" rx="3.1" ry="2"/>
<ellipse class="l" cx="370.3" cy="123.8" rx="3.2" ry="1.9"/>
<!-- flange back -->
<ellipse cx="386.8" cy="171.6" rx="26.4" ry="41.3" transform="rotate(21 386.8 171.6)" fill="#fff" stroke="none"/>
<path class="l" d="M373.7 143.1 L372.2 144.8 L370.8 146.6 L369.4 148.5 L368.0 150.5 L366.8 152.6 L365.6 154.7 L364.5 156.8 L363.4 159.1 L362.5 161.4 L361.6 163.7 L360.8 166.0 L360.1 168.4 L359.5 170.7 L359.0 173.1 L358.6 175.5 L358.3 177.8 L358.2 180.2 L358.1 182.5 L358.1 184.7 L358.2 186.9 L358.4 189.1 L358.7 191.2 L359.1 193.2 L359.7 195.2 L360.3 197.0 L361.0 198.8 L361.8 200.5 L362.7 202.1 L363.6 203.5 L364.7 204.9 L365.8 206.1 L367.1 207.2 L368.3 208.2 L369.7 209.1 L371.1 209.8 L372.6 210.4 L374.1 210.8 L375.6 211.1 L377.2 211.3 L378.9 211.3"/>
<!-- flange front -->
<ellipse class="lf" cx="392.1" cy="173.9" rx="26.4" ry="41.3" transform="rotate(21 392.1 173.9)"/>
<!-- boss -->
<ellipse class="lf" cx="393.3" cy="176" rx="16.5" ry="23" transform="rotate(21 393.3 176)"/>
<ellipse class="lf" cx="396.5" cy="177.5" rx="15.6" ry="22" transform="rotate(21 396.5 177.5)"/>
<!-- bolts -->
<g transform="translate(407.1 146)">
<ellipse class="lf" cx="-1.9" cy="-0.8" rx="4.3" ry="5.6" transform="rotate(21)"/>
<ellipse class="lf" cx="0.6" cy="0.3" rx="3.9" ry="5.3" transform="rotate(21)"/>
</g>
<g transform="translate(378.1 162.3)">
<ellipse class="lf" cx="-1.9" cy="-0.8" rx="4.3" ry="5.6" transform="rotate(21)"/>
<ellipse class="lf" cx="0.6" cy="0.3" rx="3.9" ry="5.3" transform="rotate(21)"/>
</g>
<g transform="translate(411.7 187.1)">
<ellipse class="lf" cx="-1.9" cy="-0.8" rx="4.3" ry="5.6" transform="rotate(21)"/>
<ellipse class="lf" cx="0.6" cy="0.3" rx="3.9" ry="5.3" transform="rotate(21)"/>
</g>
<g transform="translate(378.4 205.7)">
<ellipse class="lf" cx="-1.9" cy="-0.8" rx="4.3" ry="5.6" transform="rotate(21)"/>
<ellipse class="lf" cx="0.6" cy="0.3" rx="3.9" ry="5.3" transform="rotate(21)"/>
</g>

</g>

<g id="part2">
<!-- back plate -->
<path class="lf" d="M209.3 258.5L225.5 264.7L221.7 264.7L187.6 280.2L177.9 300.4L175.6 342.2L186.8 360.1L187.6 360.9L182.1 361.6L163.5 344.6L166.2 296.5L176.7 274.8Z"/>
<path class="l" d="M219.3 262.6L185 278.4L175 298.9L173 343.4L184.2 361.3"/>
<!-- body -->
<path class="lf" d="M221.7 264.7L257.8 278.3L258.3 278.3L246.5 302.7L244.1 313.6L231.7 320.5Q228 335 229 348Q229.8 357 232 362.5L240.1 364.5L245 364.7L224.8 371.4L207.7 367L187.6 360.9L186.8 360.1L175.6 342.2L177.9 300.4L187.6 280.2Z"/>
<path class="l" d="M187.6 280.2L246.5 302.7"/>
<path class="l" d="M179.8 300.4L226.3 317.4"/>
<path class="l" d="M177.3 341.5L226.9 359.5"/>
<path class="l" d="M240.8 323.3Q237 335 237.3 346.3Q237.8 356 240.1 364.5"/>
<path class="l" d="M231.7 320.5L240.8 323.3L255 315.9"/>
<!-- holes top -->
<ellipse class="l" cx="212.4" cy="282.2" rx="3.2" ry="2"/>
<ellipse class="l" cx="229.4" cy="282.2" rx="7" ry="3.9"/>
<ellipse class="l" cx="248" cy="281.8" rx="3.2" ry="2"/>
<ellipse class="l" cx="230.7" cy="288.8" rx="3.2" ry="2.1"/>
<ellipse class="dt" cx="229.6" cy="275.6" rx="2.6" ry="1.7"/>
<path class="l" d="M231.5 266.5Q234.5 267 234.6 270"/>
<!-- flange back -->
<path class="lf" d="M258.3 278.3L271.4 272L280.6 274.5L281.1 274.8L267.6 279.9L252.9 314.1Q248 335 249.9 360.9L255.5 377L260.3 379.8L259.4 381L251 378.4L245 364.7L240.1 364.5Q237.3 347 240.8 323.3L244.1 313.6L246.5 302.7Z"/>
<!-- flange front -->
<path class="lf" d="M267.6 279.9L276.8 275L281.1 274.8L287.1 290.8L291.4 304.3Q294 316 292.4 328Q290 341 283.4 351.9L275 371.4L270.8 375.6L260.3 379.8L255.5 377L249.9 360.9Q247.5 345 249.1 327.1Q250 320 252.9 314.1Z"/>
<ellipse class="l" cx="274.3" cy="284" rx="2.9" ry="4.8" transform="rotate(20 274.3 284)"/>
<ellipse class="l" cx="266.3" cy="369.7" rx="2.8" ry="4.6" transform="rotate(20 266.3 369.7)"/>
<!-- rings -->
<ellipse class="l" cx="273.2" cy="327" rx="19.3" ry="31.7" transform="rotate(15 273.2 327)"/>
<ellipse class="l" cx="273.8" cy="327.3" rx="16.6" ry="28.6" transform="rotate(15 273.8 327.3)"/>
<ellipse class="l" cx="272.7" cy="327.8" rx="13.9" ry="26" transform="rotate(15 272.7 327.8)"/>
<!-- hub -->
<ellipse class="lf" cx="273" cy="328" rx="8.5" ry="12.9" transform="rotate(12 273 328)" style="stroke-width:1.2"/>
<ellipse class="l" cx="273.5" cy="328.2" rx="6.8" ry="10.8" transform="rotate(12 273.5 328.2)"/>
<!-- shaft -->
<path class="lf" d="M273.5 320.8L287.8 326.8Q290.3 330 289.4 334.6Q288.3 339 285.6 339.4L271.6 336.6Q269.5 333 270 328Q271 322.5 273.5 320.8Z"/>
<path class="l" d="M272.4 323L285.2 328.6M271.5 325.2L284.3 330.5M271 327.4L283.8 332.4M270.8 329.6L283.6 334.3M270.9 331.8L283.8 336.1M271.3 334L284.4 337.8M275.5 321.8L286.3 326.8M278.5 323L285.8 326.4M272 335.6L285.2 338.9" style="stroke-width:0.8"/>
<ellipse class="lf" cx="286.8" cy="333" rx="3.2" ry="5.9" transform="rotate(12 286.8 333)"/>
<path class="l" d="M288.4 326.9Q291 330 290.2 333.5" style="stroke-width:1.8"/>
<path class="l" d="M284.8 339.2Q286.8 339.5 287.8 337.8" style="stroke-width:1.6"/>
</g>

<g id="gear182">
<!-- base plate dotted -->
<path class="dtf" d="M209 212.6L235.9 203.3L249 209.8V215.8L229.4 228.4L209 220Z"/>
<path class="dt" d="M209 212.6L229.4 220.9L249 209.8M229.4 220.9V228.4"/>
<!-- dome dotted -->
<path class="dtf" d="M209.9 210.7Q204 200 213.1 187.4L219.2 189.8Q227 189.5 230.3 195.8Q234 199 235 202.3Q236.8 206 235.5 209.8Q234.5 212.5 232.2 213.5L226.6 214.9Z"/>
<path class="dt" d="M209.9 210.7L226.6 214.9"/>
<circle class="dtf" cx="226.6" cy="190.2" r="4.5"/>
<path class="l" d="M223.5 190.5L228 187M224.5 192.5L229.8 188.5M226.3 193.8L230.3 190.7" style="stroke-width:0.7"/>
<!-- gear teeth band -->
<path d="M207 208.6C201.2 201 204.3 191.5 214.3 188" fill="none" stroke="#222" stroke-width="4.3" stroke-dasharray="0.85 1.15"/>
<path class="l" d="M213.3 187.4L219.2 189.8M205.4 208L209.9 210.7" style="stroke-width:1.2"/>
<!-- bolts -->
<g fill="#fff" stroke="#222" stroke-width="1">
<ellipse cx="212.7" cy="212.1" rx="3.3" ry="2.1"/><ellipse cx="229" cy="218.6" rx="3.3" ry="2.1"/><ellipse cx="242.4" cy="209.8" rx="3.3" ry="2.1"/>
</g>
<path class="l" d="M210.5 212.8L213.8 210.6M211.8 213.7L215.2 211.5M226.8 219.3L230.1 217.1M228.1 220.2L231.5 218M240.2 210.5L243.5 208.3M241.5 211.4L244.9 209.2" style="stroke-width:0.8"/>
</g>
<g id="bolt1">
<path class="lf" d="M176.6 227.8L181.9 228.9L180 240.6L175.5 239.4Q172.6 238 172.3 234.2Q172.3 229.3 176.6 227.8Z"/>
<ellipse class="lf" cx="180.9" cy="234.7" rx="2.7" ry="5.9" transform="rotate(12 180.9 234.7)"/>
<ellipse class="l" cx="181.5" cy="234.9" rx="1.8" ry="4.3" transform="rotate(12 181.5 234.9)"/>
<path class="lf" d="M183 232.2L205.8 241.1Q207.5 242.3 207 244.6Q206.3 246.9 204.3 247.1L182.2 238.7Q181.3 235 183 232.2Z"/>
<path class="l" d="M205 241Q203.3 243.5 204 247" style="stroke-width:0.8"/>
<path class="l" d="M192.8 236.2L191.2 241.8M195.2 237.1L193.6 242.7M197.6 238L196 243.6M200 239L198.4 244.6M202.4 239.9L200.8 245.5" style="stroke-width:1.3"/>
</g>

<g id="part5">
<!-- shaft stub -->
<path class="lf" d="M422.3 378.3L433 381.5V388.5L422 385.6Q420.3 384 420.6 381.5Q421 379 422.3 378.3Z"/>
<ellipse class="l" cx="422.3" cy="382" rx="1.6" ry="3.7" transform="rotate(10 422.3 382)"/>
<!-- pilot hub -->
<path class="lf" d="M441.2 370.9Q431 374 427.5 390Q425.5 405 431 414.4L440 420L446 372Z"/>
<path class="l" d="M444 373.5Q435.5 378 432.6 392Q431 405 435.5 416"/>
<!-- flange back -->
<path class="lf" d="M450.6 347.9L465.1 341.6L472.7 343.6L459.1 348.8L447.2 379.5L441.2 398.2L439.5 415.3L450.6 447.7L451.4 449.4L442.9 446L432.7 418.7Q431.5 400 441 373Z"/>
<!-- flange front -->
<path class="lf" d="M459.1 348.8L472.7 343.6L481.3 368.4L490 400L469.3 436.6L463.4 444.3L450.6 447.7L439.5 415.3L441.2 398.2L447.2 379.5Z"/>
<path class="l" d="M451.4 449.4L464.5 445.7L469.3 437.5"/>
<ellipse class="l" cx="466.8" cy="353.5" rx="2.6" ry="4.3" transform="rotate(22 466.8 353.5)"/>
<ellipse class="l" cx="458.8" cy="439.1" rx="2.7" ry="4.5" transform="rotate(22 458.8 439.1)"/>
<!-- body -->
<path class="lf" d="M454.8 379.5L483 369.2L517.9 384.6Q526 395 523 413Q518 436 500 442.3Q495 443.5 490 441.3L483.8 439.1L452.3 427.2Q445 418 445.3 402Q446.5 390 454.8 379.5Z"/>
<path class="l" d="M454.8 379.5L490.7 395.7L517.9 384.6"/>
<path class="l" d="M490.7 395.7Q481 404 481.3 416Q482.5 433 493.2 442.3"/>
<ellipse class="l" cx="468.5" cy="381.7" rx="2.8" ry="1.8"/>
<ellipse class="l" cx="484.7" cy="380.8" rx="6" ry="3.4"/>
<ellipse class="l" cx="504.3" cy="380.8" rx="2.8" ry="1.8"/>
<ellipse class="l" cx="486.7" cy="388.5" rx="2.8" ry="1.8"/>
<ellipse class="dt" cx="485" cy="374.8" rx="2.2" ry="1.4"/>
</g>

<g id="rings34">
<ellipse class="or" cx="328.5" cy="347.5" rx="12.3" ry="23.4" transform="rotate(22.5 328.5 347.5)" style="stroke-width:1.9"/>
<ellipse class="or" cx="394" cy="372.5" rx="13.2" ry="23.2" transform="rotate(21 394 372.5)" style="stroke-width:1.9"/>
</g>

<g id="tank" class="dt">
<!-- main left box -->
<path d="M27.7 490.1V429.5Q28 421.5 38.3 418.3L69.1 406.6Q74 405.5 78.4 407.1L150.7 439.8"/>
<path d="M38.3 418.3L149.8 465Q154 467 154.4 473.4"/>
<path d="M27.7 490.1L59.8 505.1Q60.5 500 64.5 499.3L70 500.4Q75 501.5 75.6 504.1L76.6 519.1L88.7 525.6V510.7L115.7 520.9L119.5 526.5L138.6 536"/>
<path d="M88.7 525.6L112 519.6"/>
<!-- second ridge -->
<path d="M105.5 419.3L127.4 412.7Q131.5 412 134.9 413.7L151.6 423"/>
<!-- cap -->
<path d="M151.1 428.6V435.1A16.4 8.4 0 0 0 183.9 435.1V428.6"/>
<ellipse cx="167.5" cy="428.6" rx="16.4" ry="8.4"/>
<ellipse cx="167.5" cy="429.1" rx="10.3" ry="5"/>
<ellipse cx="167.5" cy="430.4" rx="7.5" ry="3.4"/>
<path d="M184.3 435.1L215 449.1L277.1 475.6"/>
<!-- neck -->
<path d="M151.6 465.9L166.6 462.2L175 461.2Q181 464.5 187.1 465.9Q194 465 198.3 458.4Q202 452 206.2 451.4L214.6 449.5L223 453"/>
<path d="M152.6 467.8L153.1 495.7"/>
<path d="M155.4 469L175 462.5M155.4 492L177.8 486.4M175 466.8V482.7M178.7 474.3V486.4"/>
<path d="M177.8 486.4L229.5 506.4L238.8 510.1"/>
<path d="M153.1 495.7Q160 503 168.4 506Q179 511 189 512.5Q200 513.5 209.5 511.6Q220 509.5 228.6 505.5"/>
<!-- hatched hole -->
<ellipse cx="166.6" cy="476.2" rx="3.4" ry="4.6" transform="rotate(25 166.6 476.2)" stroke-dasharray="none" stroke-width="0.7"/>
<path d="M164.3 478.5L168 472.5M165.8 480L169.5 474.2M163.6 476L166.5 471.8M167.5 480.3L170 476.5" stroke-dasharray="none" stroke-width="0.7"/>
<!-- bottom curve -->
<path d="M138.6 536Q150 543.5 165 547.5Q185 552.5 205 552.5L217.4 551"/>
<path d="M118.1 521.9L121.8 527.5"/>
<!-- mounting plate -->
<path d="M214.6 449.5V432.7Q215 428 218.3 427.7L223 427.1L292 457Q294.8 458.5 294.8 461.6V545.6L287.7 548.4L282.7 552.1Q278 551.5 277.1 549.3L272.4 541.9L271.5 532.5"/>
<path d="M218.3 427.7L286.4 458.8Q287.7 460.5 287.7 463.5V548.4"/>
<ellipse cx="222.1" cy="440.2" rx="2.5" ry="4" transform="rotate(-20 222.1 440.2)"/>
<ellipse cx="281.2" cy="465" rx="2.5" ry="4" transform="rotate(-20 281.2 465)"/>
<ellipse cx="280.8" cy="543.4" rx="2.5" ry="4" transform="rotate(-20 280.8 543.4)"/>
<path d="M222.8 438L221.4 442.5M281.9 462.8L280.5 467.3M281.5 541.2L280.1 545.7" stroke-width="0.6"/>
<!-- body right box -->
<path d="M251 485.9L277.1 475.6V526.9Q276 529.5 272.4 529.7L268.1 530.7"/>
<!-- gasket -->
<path d="M215.1 467.2Q215.3 462.5 217.4 461.6L223 457Q226 456.5 229 458L248.2 471Q250.6 473 250.6 476.6V502.7Q249.5 508.5 244.4 511.1Q241 511.5 238.8 510.1L217.4 497.1Q215.1 494 215.1 489.6Z"/>
<ellipse cx="222.1" cy="463.9" rx="2.3" ry="3.4" transform="rotate(15 222.1 463.9)"/>
<ellipse cx="244.4" cy="504.2" rx="2.5" ry="3.6" transform="rotate(15 244.4 504.2)"/>
<ellipse cx="232.3" cy="484" rx="9.8" ry="13.4" transform="rotate(15 232.3 484)"/>
<!-- lugs -->
<path d="M254.7 516.7L263.1 511.1L268.1 513.9V527.9L260.3 534.4L255.1 532.5Z"/>
<path d="M254.7 516.7L259.8 518.8L268.1 513.9M259.8 518.8V534"/>
<ellipse cx="264.2" cy="526" rx="1.3" ry="2"/>
<path d="M217.4 531.6L226.7 526.6L230.8 528.8V545.6L223 552.1L217.4 549.3Z"/>
<path d="M217.4 531.6L222.6 533.8L230.8 528.8M222.6 533.8V552"/>
<ellipse cx="226.3" cy="543.7" rx="1.6" ry="2.6"/>
<path d="M230.8 543.7L254.7 534.4"/>
</g>
<text x="230.5" y="464.8" style="font-size:5.5px;fill:#444">CA</text>


<g id="pipe9"><g>
<!-- flange back -->
<path class="lf" d="M325.2 614.3Q325 605.5 330.2 599.1Q334.5 593.5 340.3 592.5Q346 591.8 350.4 594.1Q354 596.5 356 600.2L358.4 604.2L360.2 635.5Q359.5 641 353.5 643Q348.5 643.3 345.3 640.5Z"/>
<!-- flange front -->
<path class="lf" d="M330.2 616.3Q329.8 608 333.3 602.2Q337.5 596.3 343.3 595.1Q348.5 594.5 352.4 597.1Q355.5 599.5 357.5 603.5L360.5 633.4Q360 639 355.5 640.8Q351.5 641.3 348.4 638.4Z"/>
<ellipse class="lf" cx="353.4" cy="636.4" rx="2.3" ry="3" transform="rotate(20 353.4 636.4)"/>
<!-- pipe -->
<path class="lf" d="M338.3 606.2Q341.5 601.5 346.4 601.2Q352 601 358.4 604.2C366 608 371 612.5 376 614.2C381 615.5 386 613 390 611.5L404.8 606.2Q409.5 605.5 412.9 610.2Q415.8 613.5 415.9 617.3Q416 623.5 412.9 627.4L396 634.8C389 637.8 383 639 377 638.4C370 637.5 365 635.5 360.5 633.4L344 626.5Q340.3 624.3 338.3 621Q335 614 338.3 606.2Z"/>
<path class="l" d="M412 609.3Q409.5 613 409.6 618Q410 624.5 412.9 627.4" style="stroke-width:0.6;opacity:0"/>
</g></g>
<g id="pipe18">
<!-- stub -->
<path class="lf" d="M309.1 678.6Q311.5 677 313.7 677.4L336 688L330 712L305.6 700.7Q302 696.5 302.4 689.5Q303.5 681.5 309.1 678.6Z"/>
<path class="l" d="M309.1 678.6Q305.5 683 305.3 690Q305.3 697 307.5 701.5" style="opacity:0"/>
<g transform="translate(0.7 90.4)">
<!-- flange back -->
<path class="lf" d="M325.2 614.3Q325 605.5 330.2 599.1Q334.5 593.5 340.3 592.5Q346 591.8 350.4 594.1Q354 596.5 356 600.2L358.4 604.2L360.2 635.5Q359.5 641 353.5 643Q348.5 643.3 345.3 640.5Z"/>
<!-- flange front -->
<path class="lf" d="M330.2 616.3Q329.8 608 333.3 602.2Q337.5 596.3 343.3 595.1Q348.5 594.5 352.4 597.1Q355.5 599.5 357.5 603.5L360.5 633.4Q360 639 355.5 640.8Q351.5 641.3 348.4 638.4Z"/>
<ellipse class="lf" cx="353.4" cy="636.4" rx="2.3" ry="3" transform="rotate(20 353.4 636.4)"/>
<!-- pipe -->
<path class="lf" d="M338.3 606.2Q341.5 601.5 346.4 601.2Q352 601 358.4 604.2C366 608 371 612.5 376 614.2C381 615.5 386 613 390 611.5L404.8 606.2Q409.5 605.5 412.9 610.2Q415.8 613.5 415.9 617.3Q416 623.5 412.9 627.4L396 634.8C389 637.8 383 639 377 638.4C370 637.5 365 635.5 360.5 633.4L344 626.5Q340.3 624.3 338.3 621Q335 614 338.3 606.2Z"/>
<path class="l" d="M412 609.3Q409.5 613 409.6 618Q410 624.5 412.9 627.4" style="stroke-width:0.6;opacity:0"/>
</g>
</g>
<g id="bolt10">
<path class="lf" d="M383.6 648.3L400.6 655.2L399.4 660.9L382.4 653.3Q381.3 651 382 649.5Q382.8 648.3 383.6 648.3Z"/>
<path class="l" d="M386 649.2L384.6 654.2M388.3 650.2L386.9 655.2M390.6 651.1L389.2 656.1M392.9 652.1L391.5 657.1M395.2 653L393.8 658" style="stroke-width:1"/>
<path class="lf" d="M400.3 655.5L402.5 653.4L407.5 654.2L411 657.3L411.6 662.5L409.5 666.3L405 666.8L400.8 664.2L399.3 659.8Z"/>
<path class="lf" d="M403.6 656.8L405.5 654.8L408.8 655.6L411.2 658.4L411.4 662.6L409.6 665.6L406.3 665.9L403.9 663.4L403 659.8Z"/>
<path class="l" d="M400.3 655.5L403.6 656.8M399.3 659.8L403 659.8M400.8 664.2L403.9 663.4"/>
</g>
<g id="bracket7">
<path class="lf" d="M304.8 537.9L317.6 530.2L333.4 538.3L332.5 543Q335.9 540.3 339.3 542.6V560.1Q336 563.3 332.5 560.9L320.6 555L318 553.7V548.1L319.7 547.7L305.2 539.8Z"/>
<path class="l" d="M304.8 537.9L320.1 546L333.4 538.3M320.1 546L319.7 547.7M320.6 547.2L332.5 540.6M332.5 543V560.9M337.6 542.6V561.3"/>
<ellipse class="l" cx="318.4" cy="537.9" rx="4.6" ry="2.5" transform="rotate(3 318.4 537.9)"/>
<ellipse class="l" cx="318.5" cy="538.5" rx="3.5" ry="1.5" transform="rotate(3 318.5 538.5)"/>
<ellipse class="l" cx="325.9" cy="550.3" rx="2.4" ry="3.9" transform="rotate(-22 325.9 550.3)"/>
<path class="l" d="M324.5 547.5Q326.5 550 326.3 553.6" style="stroke-width:0.7"/>
</g>

<g id="tube12">
<path class="lf" d="M465.4 581.8L513.8 564.8Q518 564.2 521.9 567.2Q525.5 571.5 525.3 577.3Q525 584 522.9 587.8L476.5 605.9Q470 607.5 465 602Q460.5 596 461.3 590Q462.3 583.5 465.4 581.8Z"/>
<ellipse class="l" cx="469.9" cy="593.6" rx="8.4" ry="12.6" transform="rotate(-18 469.9 593.6)"/>
<ellipse class="l" cx="470" cy="594" rx="4.8" ry="7.2" transform="rotate(-18 470 594)"/>
</g>
<g id="block14">
<path class="lf" d="M559.5 530.4L583.6 520L612.1 530.7V561.6L587.5 571.4L575 567L559.5 548Z"/>
<path class="l" d="M559.5 530.4L587.5 542L612.1 530.7M587.5 542V571.4"/>
<ellipse class="l" cx="567.9" cy="530.7" rx="2.9" ry="1.6"/>
<ellipse class="l" cx="584.5" cy="522.9" rx="2.9" ry="1.6"/>
<ellipse class="l" cx="603.2" cy="530.7" rx="2.9" ry="1.6"/>
<ellipse class="l" cx="586.8" cy="537.5" rx="2.9" ry="1.6"/>
<ellipse class="lf" cx="573.2" cy="555.4" rx="12.9" ry="17.3" transform="rotate(-12 573.2 555.4)"/>
<ellipse class="lf" cx="570.2" cy="555.8" rx="12.9" ry="17.3" transform="rotate(-12 570.2 555.8)"/>
<ellipse class="l" cx="570" cy="556.2" rx="8.5" ry="12.4" transform="rotate(-12 570 556.2)"/>
</g>
<g id="rings-small">
<ellipse class="or" cx="280.5" cy="582" rx="10.1" ry="15.6" transform="rotate(25 280.5 582)" style="stroke-width:2.7"/>
<ellipse class="or" cx="436.4" cy="606.5" rx="7.8" ry="11.9" transform="rotate(-24 436.4 606.5)" style="stroke-width:2.6"/>
<ellipse class="or" cx="548.3" cy="564.9" rx="7.1" ry="11.6" transform="rotate(-25.7 548.3 564.9)" style="stroke-width:2.7"/>
<ellipse class="or" cx="587.1" cy="589.5" rx="10.4" ry="6.1" transform="rotate(5 587.1 589.5)" style="stroke-width:2.9"/>
</g>
<g id="bolt6">
<path class="lf" d="M547.7 380.1L581 391.5Q582.5 390 584 389.9L589 391.8Q591.3 394 590.6 398.5Q589.8 402.5 587.3 402.7L582 401Q580.2 400 579.6 398.2L546.6 385.4Q545.5 383.5 546 381.8Q546.6 380.3 547.7 380.1Z"/>
<path class="l" d="M550.3 381L548.9 386.2M552.8 381.9L551.4 387.1M555.3 382.8L553.9 388M557.8 383.6L556.4 388.8M560.3 384.5L558.9 389.7M562.8 385.4L561.4 390.6" style="stroke-width:1"/>
<path class="l" d="M581 391.5Q579 395 579.6 398.2"/>
<ellipse class="l" cx="586.8" cy="397" rx="3.5" ry="5.5" transform="rotate(12 586.8 397)"/>
<ellipse class="l" cx="587" cy="397.2" rx="1.9" ry="2.8" transform="rotate(12 587 397.2)" style="stroke-width:1.1"/>
<ellipse class="k" cx="587.1" cy="397.3" rx="0.7" ry="1.1"/>
</g>
<g id="bolt15">
<path class="lf" d="M599.6 486H608V507.5Q607.5 509.3 603.8 509.3Q600 509.3 599.6 507.5Z"/>
<path class="l" d="M599.8 492.5Q603.8 494 607.8 492.5M599.8 495.7Q603.8 497.2 607.8 495.7M599.8 498.9Q603.8 500.4 607.8 498.9M599.8 502.1Q603.8 503.6 607.8 502.1M599.8 505.3Q603.8 506.8 607.8 505.3" style="stroke-width:1"/>
<path class="lf" d="M596.4 476.2L599.6 473.3L606.8 473.2L610.1 476V483L606.5 486.2H599.8L596.4 483.3Z"/>
<path class="l" d="M596.4 476.2L599.8 478.8H606.5L610.1 476M599.8 478.8V486.2M606.5 478.8V486.2"/>
</g>
<g id="part17">
<path class="lf" d="M502.1 711.2L528.3 701.2L555.5 712.2V741.5L530.3 750.5L502.1 740Z"/>
<path class="l" d="M502.1 711.2L530.3 722.3L555.5 712.2M530.3 722.3V750.5M530.3 737.4L555.5 728.4"/>
<path class="l" d="M516 712.5Q521 710.5 524.5 714.5"/>
<g fill="#fff" stroke="#222" stroke-width="1.1">
<ellipse cx="510.2" cy="710.2" rx="3.5" ry="2.4"/><ellipse cx="528.3" cy="704.6" rx="3.5" ry="2.4"/><ellipse cx="544.5" cy="710.6" rx="3.5" ry="2.4"/><ellipse cx="529.3" cy="717.3" rx="3.5" ry="2.4"/>
</g>
<g fill="none" stroke="#222" stroke-width="0.9">
<ellipse cx="510.2" cy="709.8" rx="1.8" ry="1.1"/><ellipse cx="528.3" cy="704.2" rx="1.8" ry="1.1"/><ellipse cx="544.5" cy="710.2" rx="1.8" ry="1.1"/><ellipse cx="529.3" cy="716.9" rx="1.8" ry="1.1"/>
</g>
<ellipse class="lf" cx="515.5" cy="734" rx="13.2" ry="18.2" transform="rotate(-8 515.5 734)"/>
<ellipse class="lf" cx="510.5" cy="734.6" rx="14" ry="18.2" transform="rotate(-8 510.5 734.6)"/>
<ellipse class="l" cx="509.8" cy="734.8" rx="12.2" ry="16.3" transform="rotate(-8 509.8 734.8)"/>
<ellipse class="l" cx="508.8" cy="735" rx="9.6" ry="13.6" transform="rotate(-8 508.8 735)"/>
</g>

<g id="axes" class="dd">
<path d="M229.6 229.5V282.5"/>
<path d="M338.3 351.8L344 353.8M404 374.9L409.5 376.8" style="stroke:#fff;stroke-width:3.4;stroke-dasharray:none"/>
<path d="M287 333.7L314.8 343.5"/><path d="M328.3 348.3L380.6 366.7"/><path d="M394.7 371.7L421.5 381.1"/>
<path d="M467.5 353.8L546.5 382.9"/>
<path d="M485 380V368.4L535.9 385.7V656.5L587 676.3V598"/>
<path d="M587.1 580.8V585.8" style="stroke:#fff;stroke-width:3.4;stroke-dasharray:none"/><path d="M587.1 571.8V590.5"/>
<path d="M603.7 510V530.5"/>
<path d="M290.8 586.4L296.2 588.7" style="stroke:#fff;stroke-width:3.6;stroke-dasharray:none"/>
<path d="M232.3 486.3L260.5 498V573.7L268.3 577"/><path d="M280 581.9L327.4 601.7"/>
<path d="M294.6 588L292.4 681L302.6 686.2"/>
<path d="M424.1 612.4L421.2 703.4L415.4 705.6"/>
<path d="M353.4 636.4L382.6 650.5"/>
<path d="M416 612.5L461 596.7M466.5 594.8L474.5 592M525.5 572.3L568 556.2"/>
</g>

<g id="labels">
<rect x="127.5" y="166.5" width="47.3" height="14.4" fill="#fff" stroke="#222" stroke-width="1.1"/>
<rect x="135.6" y="168.1" width="31.3" height="10.8" fill="#b9b9b9"/>
<rect x="73.3" y="558.6" width="65.3" height="14.8" fill="#fff" stroke="#222" stroke-width="1.1"/>
<rect x="78.3" y="560.2" width="57" height="11.6" fill="#b9b9b9"/>
<path class="ld" d="M174.8 176.2H179.7L203.3 194.4"/>
<path class="ld" d="M138.6 569H143.6L161.4 546.8"/>
<path class="k" transform="translate(134.97 178.00) scale(0.00576 -0.00552)" d="M763 0H583V1147Q518 1085 412.5 1023Q307 961 223 930V1104Q374 1175 487 1276Q600 1377 647 1472H763Z" style="stroke-width:40;stroke:#111"/><text x="141.53" y="178.00" style="font-size:11.8px">.</text><text x="144.81" y="178.00" style="font-size:11.8px">8</text><text x="151.37" y="178.00" style="font-size:11.8px">2</text><text x="157.93" y="178.00" style="font-size:11.8px">.</text><path class="k" transform="translate(161.21 178.00) scale(0.00576 -0.00552)" d="M763 0H583V1147Q518 1085 412.5 1023Q307 961 223 930V1104Q374 1175 487 1276Q600 1377 647 1472H763Z" style="stroke-width:40;stroke:#111"/>
<path class="k" transform="translate(78.25 570.60) scale(0.00562 -0.00537)" d="M763 0H583V1147Q518 1085 412.5 1023Q307 961 223 930V1104Q374 1175 487 1276Q600 1377 647 1472H763Z" style="stroke-width:40;stroke:#111"/><text x="84.64" y="570.60" style="font-size:11.5px">.</text><text x="87.84" y="570.60" style="font-size:11.5px">3</text><text x="94.23" y="570.60" style="font-size:11.5px">2</text><text x="100.63" y="570.60" style="font-size:11.5px">.</text><text x="103.83" y="570.60" style="font-size:11.5px">8</text><text x="113.42" y="570.60" style="font-size:11.5px">(</text><text x="117.25" y="570.60" style="font-size:11.5px">0</text><path class="k" transform="translate(123.64 570.60) scale(0.00562 -0.00537)" d="M763 0H583V1147Q518 1085 412.5 1023Q307 961 223 930V1104Q374 1175 487 1276Q600 1377 647 1472H763Z" style="stroke-width:40;stroke:#111"/><text x="130.04" y="570.60" style="font-size:11.5px">)</text>
<path class="k" transform="translate(150.79 212.00) scale(0.00586 -0.00561)" d="M763 0H583V1147Q518 1085 412.5 1023Q307 961 223 930V1104Q374 1175 487 1276Q600 1377 647 1472H763Z" style="stroke-width:40;stroke:#111"/><path class="ld" d="M158.5 212.4H163.9L176.1 228.7"/>
<text x="306.60" y="275.20" style="font-size:12.0px">2</text><path class="ld" d="M306.5 274.1H301L287.9 290.7"/>
<text x="362.34" y="313.40" style="font-size:12.0px">3</text><path class="ld" d="M359.8 312.9H354.6L342.3 327.2"/>
<text x="421.62" y="334.30" style="font-size:12.0px">4</text><path class="ld" d="M420.9 333.9H414.9L400.8 349.4"/>
<text x="493.92" y="328.00" style="font-size:12.0px">5</text><path class="ld" d="M491.6 327.8H486.5L473.6 343.6"/>
<text x="608.39" y="375.90" style="font-size:12.0px">6</text><path class="ld" d="M606.9 375.2H601.6L588.9 391.7"/>
<text x="352.88" y="522.70" style="font-size:12.0px">7</text><path class="ld" d="M351.6 522.1H346L332.1 539.4"/>
<text x="245.08" y="610.10" style="font-size:12.0px">8</text><path class="ld" d="M254.5 610.5H259.5L270.7 598"/>
<text x="302.44" y="638.40" style="font-size:12.0px">9</text><path class="ld" d="M311 638.4H317.1L328.2 626"/>
<path class="k" transform="translate(351.49 667.00) scale(0.00586 -0.00561)" d="M763 0H583V1147Q518 1085 412.5 1023Q307 961 223 930V1104Q374 1175 487 1276Q600 1377 647 1472H763Z" style="stroke-width:40;stroke:#111"/><text x="358.17" y="667.00" style="font-size:12.0px">0</text><path class="ld" d="M366.5 667.3H371.5L383.2 655"/>
<path class="k" transform="translate(397.69 578.20) scale(0.00586 -0.00561)" d="M763 0H583V1147Q518 1085 412.5 1023Q307 961 223 930V1104Q374 1175 487 1276Q600 1377 647 1472H763Z" style="stroke-width:40;stroke:#111"/><path class="k" transform="translate(404.37 578.20) scale(0.00586 -0.00561)" d="M763 0H583V1147Q518 1085 412.5 1023Q307 961 223 930V1104Q374 1175 487 1276Q600 1377 647 1472H763Z" style="stroke-width:40;stroke:#111"/><path class="ld" d="M412 577.9H416.8L430.2 594.5"/>
<path class="k" transform="translate(567.59 509.30) scale(0.00586 -0.00561)" d="M763 0H583V1147Q518 1085 412.5 1023Q307 961 223 930V1104Q374 1175 487 1276Q600 1377 647 1472H763Z" style="stroke-width:40;stroke:#111"/><path class="k" transform="translate(574.27 509.30) scale(0.00586 -0.00561)" d="M763 0H583V1147Q518 1085 412.5 1023Q307 961 223 930V1104Q374 1175 487 1276Q600 1377 647 1472H763Z" style="stroke-width:40;stroke:#111"/><path class="ld" d="M566.6 509.3H562.1L545.2 552.7"/>
<path class="k" transform="translate(474.19 550.10) scale(0.00586 -0.00561)" d="M763 0H583V1147Q518 1085 412.5 1023Q307 961 223 930V1104Q374 1175 487 1276Q600 1377 647 1472H763Z" style="stroke-width:40;stroke:#111"/><text x="480.87" y="550.10" style="font-size:12.0px">2</text><path class="ld" d="M488.6 549.7H493.6L506.3 567.2"/>
<path class="k" transform="translate(622.99 619.30) scale(0.00586 -0.00561)" d="M763 0H583V1147Q518 1085 412.5 1023Q307 961 223 930V1104Q374 1175 487 1276Q600 1377 647 1472H763Z" style="stroke-width:40;stroke:#111"/><text x="629.67" y="619.30" style="font-size:12.0px">3</text><path class="ld" d="M622.9 619.1H617.1L596.4 594.6"/>
<path class="k" transform="translate(631.89 515.20) scale(0.00586 -0.00561)" d="M763 0H583V1147Q518 1085 412.5 1023Q307 961 223 930V1104Q374 1175 487 1276Q600 1377 647 1472H763Z" style="stroke-width:40;stroke:#111"/><text x="638.57" y="515.20" style="font-size:12.0px">4</text><path class="ld" d="M630 515.2H624.6L611.8 531.25"/>
<path class="k" transform="translate(626.79 457.70) scale(0.00586 -0.00561)" d="M763 0H583V1147Q518 1085 412.5 1023Q307 961 223 930V1104Q374 1175 487 1276Q600 1377 647 1472H763Z" style="stroke-width:40;stroke:#111"/><text x="633.47" y="457.70" style="font-size:12.0px">5</text><path class="ld" d="M626 457.3H620.7L606.9 474.2"/>
<path class="k" transform="translate(420.49 221.70) scale(0.00586 -0.00561)" d="M763 0H583V1147Q518 1085 412.5 1023Q307 961 223 930V1104Q374 1175 487 1276Q600 1377 647 1472H763Z" style="stroke-width:40;stroke:#111"/><text x="427.17" y="221.70" style="font-size:12.0px">6</text><path class="ld" d="M418.7 221.2H414.1L399.3 207.2"/>
<path class="k" transform="translate(585.49 702.20) scale(0.00586 -0.00561)" d="M763 0H583V1147Q518 1085 412.5 1023Q307 961 223 930V1104Q374 1175 487 1276Q600 1377 647 1472H763Z" style="stroke-width:40;stroke:#111"/><text x="592.17" y="702.20" style="font-size:12.0px">7</text><path class="ld" d="M584.8 701.6H578.7L556.5 712.2"/>
<path class="k" transform="translate(285.69 718.60) scale(0.00586 -0.00561)" d="M763 0H583V1147Q518 1085 412.5 1023Q307 961 223 930V1104Q374 1175 487 1276Q600 1377 647 1472H763Z" style="stroke-width:40;stroke:#111"/><text x="292.37" y="718.60" style="font-size:12.0px">8</text><path class="ld" d="M299.8 718.8H305.6L317.2 706.5"/>
</g>
</svg>
</body></html>
